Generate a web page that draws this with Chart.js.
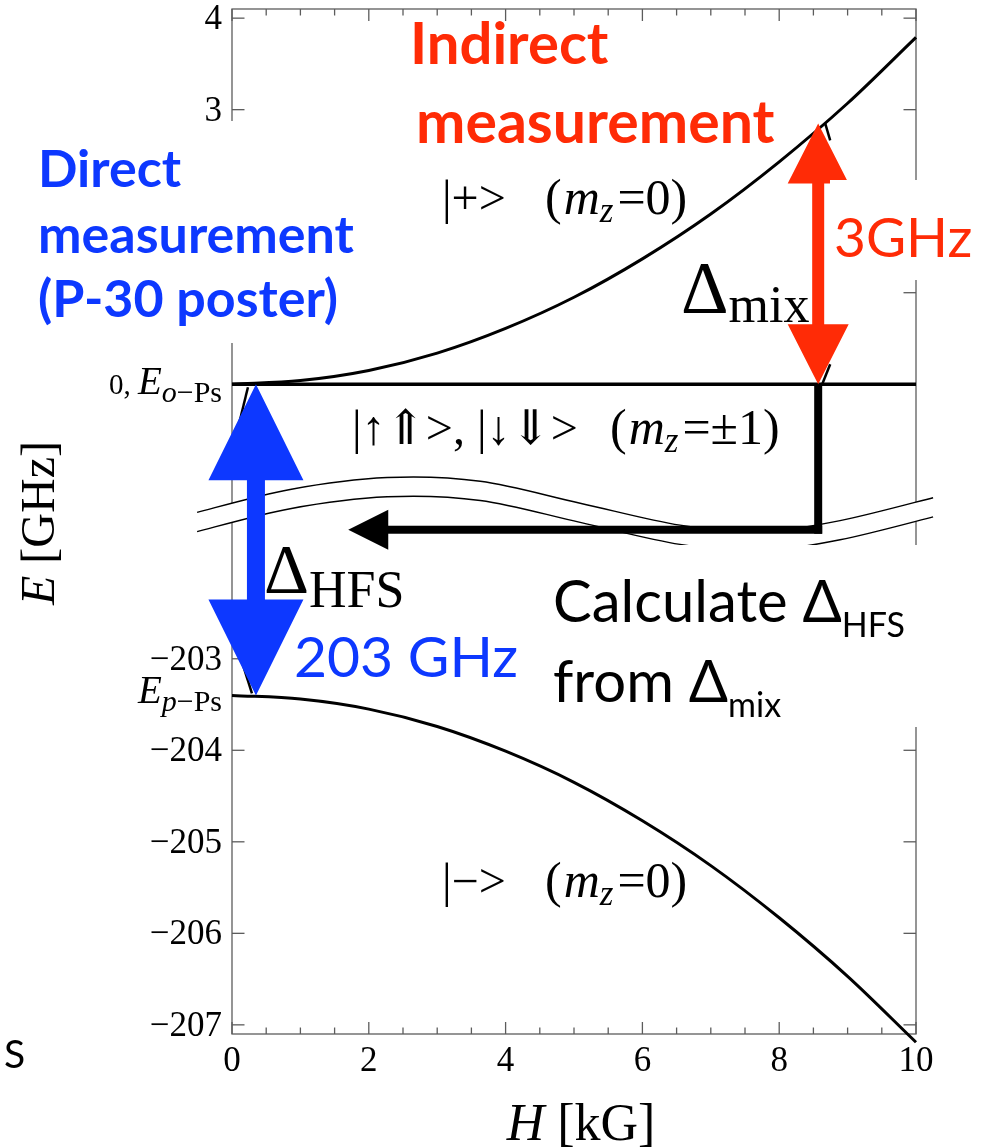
<!DOCTYPE html>
<html>
<head>
<meta charset="utf-8">
<script src="https://cdn.jsdelivr.net/npm/chart.js@4.4.1/dist/chart.umd.min.js"></script>
<style>
  html, body { margin: 0; padding: 0; background: #fff; }
  #wrap { width: 991px; height: 1148px; position: relative; }
</style>
</head>
<body>
<div id="wrap"><canvas id="levels"></canvas></div>
<script>
// magnetic field [kG]
const fieldKG = [0, 1, 2, 3, 4, 5, 6, 7, 8, 9, 10];
// |+> (m_z=0), GHz
const plusLevelGHz = [0, 0.04, 0.15, 0.34, 0.61, 0.95, 1.37, 1.86, 2.43, 3.07, 3.79];
// |-> (m_z=0), GHz
const minusLevelGHz = [-203.40, -203.44, -203.55, -203.74, -204.01, -204.35, -204.77, -205.26, -205.83, -206.47, -207.19];
// |↑⇑>, |↓⇓> (m_z=±1) stays at the o-Ps level
const tripletFieldKG = [0, 10];
const tripletLevelGHz = [0, 0];

const upperTicks = [4, 3, 2, 1, 0];
const lowerTicks = [-203, -204, -205, -206, -207];
const xTicks = [0, 2, 4, 6, 8, 10];
const xMinorStep = 0.5;

const pPsGHz = -203.4;       // E_p-Ps
const hfsArrowKG = 0.35;     // blue arrow
const mixFieldKG = 8.57;     // red arrow / black line
const mixTopGHz = 2.85;
const backTipKG = 1.7;       // black arrow tip
const backArrowPlot = -1.59; // black arrow height (inside the break)

// y axis is broken: everything below -100 GHz is drawn shifted up by 200
const BREAK_SHIFT = 200;
const toPlot = v => v < -100 ? v + BREAK_SHIFT : v;

// break band, in plotted units
const breakWaveKG = [-0.51, 0.85, 2.27, 3.63, 5.09, 6.55, 7.72, 8.89, 10.25];
const breakWaveTop = [-1.40, -1.15, -1.02, -1.06, -1.30, -1.54, -1.61, -1.49, -1.24];
const breakWaveGap = 0.21;

const BLUE = '#0d38ff';
const RED = '#ff2b06';
const GRAY = '#5c5c5c';

const serif = (size, style = '') => `${style} ${size}px "Liberation Serif", "DejaVu Serif", serif`;
const sans = (size, weight = '') => `${weight} ${size}px Lato, "Open Sans", sans-serif`;

function drawParts(ctx, x, y, parts, align = 'left') {
    const widths = parts.map(p => {
        ctx.font = p.font;
        return ctx.measureText(p.text).width + (p.gap || 0);
    });
    const total = widths.reduce((s, w) => s + w, 0);
    let cx = align === 'right' ? x - total : align === 'center' ? x - total / 2 : x;
    parts.forEach((p, i) => {
        ctx.font = p.font;
        ctx.fillText(p.text, cx, y + (p.dy || 0));
        cx += widths[i];
    });
}

function seg(ctx, x1, y1, x2, y2) {
    ctx.beginPath();
    ctx.moveTo(x1, y1);
    ctx.lineTo(x2, y2);
    ctx.stroke();
}

// smooth path through points (catmull-rom)
function smoothPath(ctx, pts, move = true) {
    if (move) ctx.moveTo(pts[0][0], pts[0][1]);
    else ctx.lineTo(pts[0][0], pts[0][1]);
    for (let i = 0; i < pts.length - 1; i++) {
        const p0 = pts[Math.max(i - 1, 0)], p1 = pts[i], p2 = pts[i + 1], p3 = pts[Math.min(i + 2, pts.length - 1)];
        ctx.bezierCurveTo(
            p1[0] + (p2[0] - p0[0]) / 6, p1[1] + (p2[1] - p0[1]) / 6,
            p2[0] - (p3[0] - p1[0]) / 6, p2[1] - (p3[1] - p1[1]) / 6,
            p2[0], p2[1]);
    }
}

function doubleArrow(ctx, x, yTop, yBot, headLen, headHalf, shaftHalf) {
    ctx.beginPath();
    ctx.moveTo(x, yTop);
    ctx.lineTo(x + headHalf, yTop + headLen);
    ctx.lineTo(x + shaftHalf, yTop + headLen);
    ctx.lineTo(x + shaftHalf, yBot - headLen);
    ctx.lineTo(x + headHalf, yBot - headLen);
    ctx.lineTo(x, yBot);
    ctx.lineTo(x - headHalf, yBot - headLen);
    ctx.lineTo(x - shaftHalf, yBot - headLen);
    ctx.lineTo(x - shaftHalf, yTop + headLen);
    ctx.lineTo(x - headHalf, yTop + headLen);
    ctx.closePath();
    ctx.fill();
}

const framePlugin = {
    id: 'frame',
    beforeDatasetsDraw(chart) {
        const { ctx, chartArea: a, scales: { x, y } } = chart;
        ctx.save();
        ctx.strokeStyle = GRAY;
        ctx.lineWidth = 1.3;
        ctx.strokeRect(a.left, a.top, a.right - a.left, a.bottom - a.top);

        // ticks pointing inwards
        for (let v = 0; v <= 10.001; v += xMinorStep) {
            const px = x.getPixelForValue(v);
            const len = xTicks.includes(v) ? 12 : 6.5;
            seg(ctx, px, a.bottom, px, a.bottom - len);
            seg(ctx, px, a.top, px, a.top + len);
        }
        [...upperTicks, ...lowerTicks].forEach(v => {
            const py = y.getPixelForValue(toPlot(v));
            seg(ctx, a.left, py, a.left + 12.5, py);
            seg(ctx, a.right, py, a.right - 12.5, py);
        });

        // tick labels
        ctx.fillStyle = '#000';
        ctx.textBaseline = 'alphabetic';
        xTicks.forEach(v => {
            drawParts(ctx, x.getPixelForValue(v), 1071, [{ text: String(v), font: serif(35) }], 'center');
        });
        const lx = a.left - 10;
        upperTicks.filter(v => v !== 0).forEach(v => {
            drawParts(ctx, lx, y.getPixelForValue(v) + 11, [{ text: String(v), font: serif(35) }], 'right');
        });
        lowerTicks.forEach(v => {
            drawParts(ctx, lx, y.getPixelForValue(toPlot(v)) + 11, [{ text: '\u2212' + Math.abs(v), font: serif(35) }], 'right');
        });
        const y0 = y.getPixelForValue(0);
        drawParts(ctx, lx, y0 + 10, [
            { text: '0, ', font: serif(29) },
            { text: 'E', font: serif(39, 'italic') },
            { text: 'o', font: serif(30, 'italic'), dy: 8 },
            { text: '\u2212Ps', font: serif(30), dy: 8 }
        ], 'right');
        const yp = y.getPixelForValue(toPlot(pPsGHz));
        drawParts(ctx, lx, yp + 8, [
            { text: 'E', font: serif(39, 'italic') },
            { text: 'p', font: serif(30, 'italic'), dy: 8 },
            { text: '\u2212Ps', font: serif(30), dy: 8 }
        ], 'right');

        // break band
        const top = breakWaveKG.map((h, i) => [x.getPixelForValue(h), y.getPixelForValue(breakWaveTop[i])]);
        const bot = breakWaveKG.map((h, i) => [x.getPixelForValue(h), y.getPixelForValue(breakWaveTop[i] - breakWaveGap)]);
        ctx.beginPath();
        smoothPath(ctx, top);
        smoothPath(ctx, bot.slice().reverse(), false);
        ctx.closePath();
        ctx.fillStyle = '#fff';
        ctx.fill();
        ctx.strokeStyle = '#000';
        ctx.lineWidth = 1.4;
        ctx.beginPath(); smoothPath(ctx, top); ctx.stroke();
        ctx.beginPath(); smoothPath(ctx, bot); ctx.stroke();
        ctx.restore();
    },
    afterDatasetsDraw(chart) {
        const { ctx, scales: { x, y } } = chart;
        ctx.save();

        // black L-shaped arrow: from Δmix back to Δhfs
        const xm = x.getPixelForValue(mixFieldKG);
        const y0 = y.getPixelForValue(0);
        const yb = y.getPixelForValue(backArrowPlot);
        const xt = x.getPixelForValue(backTipKG);
        ctx.fillStyle = '#000';
        ctx.fillRect(xm - 4, y0, 8, yb + 4 - y0);
        ctx.fillRect(xt + 38, yb - 4, xm + 4 - (xt + 38), 8);
        ctx.beginPath();
        ctx.moveTo(xt, yb);
        ctx.lineTo(xt + 40, yb - 20);
        ctx.lineTo(xt + 40, yb + 20);
        ctx.closePath();
        ctx.fill();

        // thin black arrow edges peeking out under the coloured ones
        const xh = x.getPixelForValue(hfsArrowKG);
        const yp = y.getPixelForValue(toPlot(pPsGHz));
        const ymt = y.getPixelForValue(mixTopGHz);
        ctx.strokeStyle = '#000';
        ctx.lineWidth = 2.5;
        seg(ctx, xh - 8, y0 + 3, xh - 17, y0 + 40);
        seg(ctx, xh - 16, yp - 40, xh - 4, yp - 2);
        seg(ctx, xm + 7, ymt, xm + 12, ymt + 17);
        seg(ctx, xm + 12, y0 - 20, xm + 4, y0);

        // Δhfs (blue) and Δmix (red)
        ctx.fillStyle = BLUE;
        doubleArrow(ctx, xh, y0, yp, 96, 47.5, 9);
        ctx.fillStyle = RED;
        doubleArrow(ctx, xm, ymt, y0, 60, 30.5, 6);

        // white boxes behind the labels (they hide the axis there)
        ctx.fillStyle = '#fff';
        ctx.fillRect(0, 121, 360, 222);
        ctx.fillRect(830, 180, 161, 100);
        ctx.fillRect(540, 545, 400, 182);

        // labels
        ctx.textBaseline = 'alphabetic';
        ctx.fillStyle = RED;
        drawParts(ctx, 410, 64, [{ text: 'Indirect', font: sans(58, 'bold') }]);
        drawParts(ctx, 416, 143, [{ text: 'measurement', font: sans(59, 'bold') }]);
        drawParts(ctx, 834, 257, [{ text: '3GHz', font: sans(55) }]);

        ctx.fillStyle = BLUE;
        drawParts(ctx, 38, 187, [{ text: 'Direct', font: sans(52, 'bold') }]);
        drawParts(ctx, 38, 253, [{ text: 'measurement', font: sans(52, 'bold') }]);
        drawParts(ctx, 38, 317, [{ text: '(P-30 poster)', font: sans(52, 'bold') }]);
        drawParts(ctx, 294, 677, [{ text: '203 GHz', font: sans(57) }]);

        ctx.fillStyle = '#000';
        drawParts(ctx, 553, 622, [
            { text: 'Calculate ', font: sans(58) },
            { text: '\u0394', font: sans(58) },
            { text: 'HFS', font: sans(34), dy: 15 }
        ]);
        drawParts(ctx, 553, 702, [
            { text: 'from ', font: sans(58) },
            { text: '\u0394', font: sans(58) },
            { text: 'mix', font: sans(34), dy: 15 }
        ]);

        drawParts(ctx, 681, 313, [
            { text: '\u0394', font: serif(74) },
            { text: 'mix', font: serif(52), dy: 9 }
        ]);
        drawParts(ctx, 264, 593, [
            { text: '\u0394', font: serif(70) },
            { text: 'HFS', font: serif(52), dy: 14 }
        ]);

        const state = (x0, yBase, ket, mz, gap) => {
            drawParts(ctx, x0, yBase, [{ text: ket, font: serif(48) }]);
            drawParts(ctx, x0 + gap, yBase, [
                { text: '(', font: serif(50), gap: 2 },
                { text: 'm', font: serif(50, 'italic') },
                { text: 'z', font: serif(35, 'italic'), dy: 8, gap: 4 },
                { text: '=' + mz + ')', font: serif(50) }
            ]);
        };
        state(442, 214, '|+>', '0', 103);
        state(352, 444, '|\u2191\u21d1>, |\u2193\u21d3>', '\u00b11', 258);
        state(442, 897, '|\u2212>', '0', 103);

        // axis titles
        drawParts(ctx, 581, 1140, [
            { text: 'H', font: serif(52, 'italic') },
            { text: ' [kG]', font: serif(52) }
        ], 'center');
        ctx.save();
        ctx.translate(54, 523);
        ctx.rotate(-Math.PI / 2);
        drawParts(ctx, 0, 0, [
            { text: 'E', font: serif(48, 'italic') },
            { text: ' [GHz]', font: serif(48) }
        ], 'center');
        ctx.restore();

        drawParts(ctx, 4, 1068, [{ text: 'S', font: sans(39) }]);
        ctx.restore();
    }
};

const line = (xs, ys, width) => ({
    data: xs.map((h, i) => ({ x: h, y: toPlot(ys[i]) })),
    borderColor: '#000',
    borderWidth: width,
    pointRadius: 0,
    cubicInterpolationMode: 'monotone',
    clip: false
});

new Chart(document.getElementById('levels'), {
    type: 'line',
    data: {
        datasets: [
            line(fieldKG, plusLevelGHz, 3),
            line(fieldKG, minusLevelGHz, 3),
            line(tripletFieldKG, tripletLevelGHz, 3.5)
        ]
    },
    options: {
        responsive: true,
        maintainAspectRatio: false,
        animation: false,
        layout: { padding: { left: 232, right: 75, top: 9, bottom: 114 } },
        plugins: { legend: { display: false }, tooltip: { enabled: false } },
        scales: {
            x: { type: 'linear', min: 0, max: 10, display: false },
            y: { type: 'linear', min: -7.1, max: 4.1, display: false }
        }
    },
    plugins: [framePlugin]
});
</script>
</body>
</html>
